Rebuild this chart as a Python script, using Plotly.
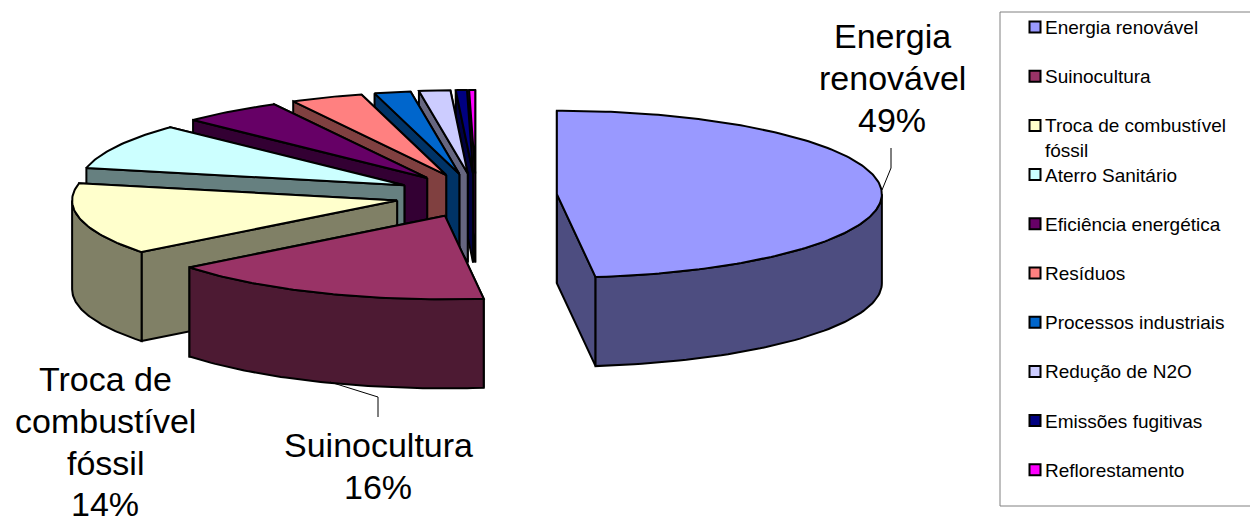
import math
import plotly.graph_objects as go

categories = ["Energia renovável", "Suinocultura", "Troca de combustível fóssil",
              "Aterro Sanitário", "Eficiência energética", "Resíduos",
              "Processos industriais", "Redução de N2O", "Emissões fugitivas",
              "Reflorestamento"]
shares = [48.1, 16.3, 13.9, 8.9, 5.0, 3.6, 1.8, 1.55, 0.55, 0.3]
top_colors = ["#9999FF", "#993366", "#FFFFCC", "#CCFFFF", "#660066",
              "#FF8080", "#0066CC", "#CCCCFF", "#000080", "#FF00FF"]
side_colors = ["#4D4D80", "#4D1A33", "#808066", "#668080", "#330033",
               "#804040", "#003366", "#666680", "#000040", "#800080"]
pie_labels = {0: ["Energia", "renovável", "49%"],
              1: ["Suinocultura", "16%"],
              2: ["Troca de", "combustível", "fóssil", "14%"]}
legend_labels = ["Energia renovável", "Suinocultura", "Troca de combustível<br>fóssil",
                 "Aterro Sanitário", "Eficiência energética", "Resíduos",
                 "Processos industriais", "Redução de N2O", "Emissões fugitivas",
                 "Reflorestamento"]

# projection of the exploded 3D pie, in page pixels
CX, CY = 476, 195.5
RX, RY = 325, 83.5
EXPLODE_X, EXPLODE_Y = 81, 22
DEPTH = 89
EDGE = 2

fig = go.Figure()


def rim(apex, t):
    return apex[0] + RX * math.sin(t), apex[1] - RY * math.cos(t)


def face(xs, ys, color):
    fig.add_trace(go.Scatter(x=xs, y=ys, mode="lines", fill="toself", fillcolor=color,
                             line=dict(color="black", width=EDGE), hoverinfo="skip",
                             showlegend=False))


total = sum(shares)
angles = []
acc = 0.0
for v in shares:
    angles.append((acc / total * 2 * math.pi, (acc + v) / total * 2 * math.pi))
    acc += v


def draw_slice(i):
    t0, t1 = angles[i]
    mid = (t0 + t1) / 2
    apex = (CX + EXPLODE_X * math.sin(mid), CY - EXPLODE_Y * math.cos(mid))
    # radial cut faces
    for t in (t1, t0):
        px, py = rim(apex, t)
        face([apex[0], px, px, apex[0], apex[0]],
             [apex[1], py, py + DEPTH, apex[1] + DEPTH, apex[1]], side_colors[i])
    # outer wall: only the part of the rim that faces the viewer
    a = max(t0, math.pi / 2)
    b = min(t1, 3 * math.pi / 2)
    if b > a:
        n = 60
        pts = [rim(apex, a + (b - a) * k / n) for k in range(n + 1)]
        xs = [p[0] for p in pts] + [p[0] for p in reversed(pts)]
        ys = [p[1] for p in pts] + [p[1] + DEPTH for p in reversed(pts)]
        face(xs + xs[:1], ys + ys[:1], side_colors[i])
    # top face
    n = max(6, int((t1 - t0) * 60))
    pts = [rim(apex, t0 + (t1 - t0) * k / n) for k in range(n + 1)]
    face([apex[0]] + [p[0] for p in pts] + [apex[0]],
         [apex[1]] + [p[1] for p in pts] + [apex[1]], top_colors[i])


# painter's order: back slices first, front slices last
for i in list(range(len(shares) - 1, 0, -1)) + [0]:
    draw_slice(i)

# leader lines
for xs, ys in (([882, 891, 891], [190, 168, 148]), ([330, 378, 378], [382, 397, 417])):
    fig.add_trace(go.Scatter(x=xs, y=ys, mode="lines", line=dict(color="black", width=1),
                             hoverinfo="skip", showlegend=False))

# pie labels
LABEL_LINE = 41.8
label_pos = {0: (892, 36), 1: (378, 445), 2: (105, 379)}
for i, lines in pie_labels.items():
    for k, text in enumerate(lines):
        fig.add_annotation(x=label_pos[i][0], y=label_pos[i][1] + k * LABEL_LINE, text=text,
                           showarrow=False, xanchor="center", yanchor="middle", align="center",
                           font=dict(family="Liberation Sans, Arial", size=34, color="black"))

# legend
LEG_X, LEG_Y0, LEG_STEP = 1035, 27, 49.2
for i, text in enumerate(legend_labels):
    y = LEG_Y0 + i * LEG_STEP
    fig.add_trace(go.Scatter(x=[LEG_X], y=[y], mode="markers", hoverinfo="skip", showlegend=False,
                             marker=dict(symbol="square", size=11, color=top_colors[i],
                                         line=dict(color="black", width=2))))
    fig.add_annotation(x=LEG_X + 8, y=y - 12, text=text, showarrow=False, xanchor="left",
                       yanchor="top", align="left",
                       font=dict(family="Liberation Sans, Arial", size=19, color="black"))

fig.add_shape(type="rect", x0=1000, x1=1270, y0=12, y1=506,
              line=dict(color="#808080", width=1), fillcolor="rgba(0,0,0,0)")

fig.update_layout(width=1250, height=518, autosize=False,
                  margin=dict(l=0, r=0, t=0, b=0),
                  paper_bgcolor="white", plot_bgcolor="white", showlegend=False,
                  xaxis=dict(range=[0, 1250], visible=False, fixedrange=True),
                  yaxis=dict(range=[518, 0], visible=False, fixedrange=True))
fig.write_html("out.html", config={"displayModeBar": False},
               post_script="document.body.style.margin='0';document.body.style.overflow='hidden';")
